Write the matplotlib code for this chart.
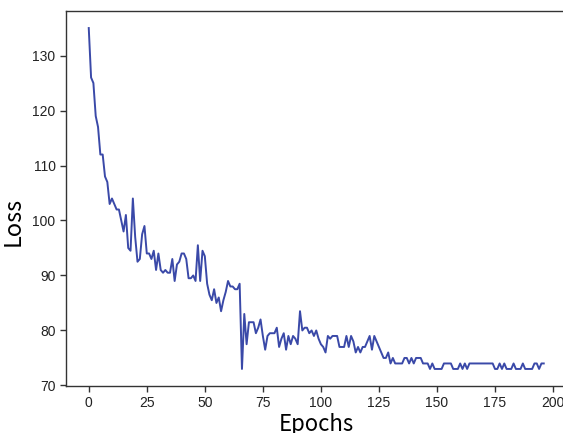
import matplotlib
matplotlib.use("Agg")
import matplotlib.pyplot as plt

loss = [
    135, 126, 125, 119, 117, 112, 112, 108, 107, 103,
    104, 103, 102, 102, 100, 98, 101, 95, 94.5, 104,
    97, 92.5, 93, 97.5, 99, 94, 94, 93, 94.5, 91,
    94, 91, 90.5, 91, 90.5, 90.5, 93, 89, 92, 92.5,
    94, 94, 93, 89.5, 89.5, 90, 89, 95.5, 89, 94.5,
    93.5, 88.5, 86.5, 85.5, 87.5, 85, 86, 83.5, 85.5, 87,
    89, 88, 88, 87.5, 87.5, 88.5, 73, 83, 77.5, 81.5,
    81.5, 81.5, 79.5, 80.5, 82, 79, 76.5, 79, 79.5, 79.5,
    79.5, 80.5, 77, 78.5, 79.5, 76.5, 79, 77.5, 79, 78.5,
    77.5, 83.5, 80, 80.5, 80.5, 79.5, 80, 79, 80, 78.5,
    77.5, 77, 76, 79, 78.5, 79, 79, 79, 77, 77,
    77, 79, 77, 79, 78, 76, 77, 76, 77, 77,
    78, 79, 76.5, 79, 78, 77, 76, 75, 75, 76,
    74, 75, 74, 74, 74, 74, 75, 75, 74, 75,
    74, 75, 75, 75, 74, 74, 74, 73, 74, 73,
    73, 73, 73, 74, 74, 74, 74, 73, 73, 73,
    74, 73, 74, 73, 74, 74, 74, 74, 74, 74,
    74, 74, 74, 74, 74, 73, 73, 74, 73, 74,
    73, 73, 73, 74, 73, 73, 73, 74, 73, 73,
    73, 73, 74, 74, 73, 74, 74,
]
epochs = list(range(len(loss)))
xticks = [0, 25, 50, 75, 100, 125, 150, 175, 200]
yticks = [70, 80, 90, 100, 110, 120, 130]

fig = plt.figure(figsize=(5.63, 4.33), dpi=100)
W, H = 563, 433
ax = fig.add_axes([66 / W, 1 - 386 / H, (566.5 - 66) / W, (386 - 11) / H])
ax.plot(epochs, loss, color="#3a49a8", linewidth=1.4)
ax.set_xticks(xticks)
ax.set_yticks(yticks)
ax.tick_params(labelsize=10, length=4, width=1, colors="#333333", labelcolor="#222222")
for s in ax.spines.values():
    s.set_color("#333333")
    s.set_linewidth(1.0)
ax.set_xlabel("Epochs", fontsize=16, family=["Noto Sans CJK JP", "DejaVu Sans"], labelpad=2)
ax.set_ylabel("Loss", fontsize=17, family=["Noto Sans CJK JP", "DejaVu Sans"])
ax.yaxis.set_label_coords(-0.082, 0.44)
for lab in ax.get_xticklabels() + ax.get_yticklabels():
    lab.set_family(["Liberation Sans", "DejaVu Sans"])
fig.savefig("out.png", dpi=100)
